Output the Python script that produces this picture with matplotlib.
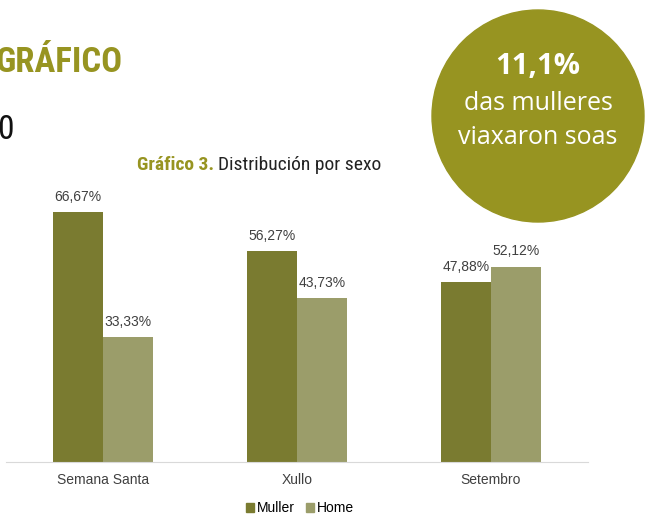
import matplotlib.pyplot as plt
from matplotlib.patches import Ellipse, Patch
import numpy as np

categorias = ["Semana Santa", "Xullo", "Setembro"]
muller = [66.67, 56.27, 47.88]
home = [33.33, 43.73, 52.12]
etiquetas_muller = ["66,67%", "56,27%", "47,88%"]
etiquetas_home = ["33,33%", "43,73%", "52,12%"]

c_muller = "#7a7b30"
c_home = "#9b9d6a"
c_olive = "#979421"
narrow = ["Roboto Condensed", "Liberation Sans Narrow", "Roboto", "DejaVu Sans"]

fig = plt.figure(figsize=(6.46, 5.22), dpi=100)

ax = fig.add_axes([6 / 646, 60 / 522, 582 / 646, 250 / 522])
x = np.arange(len(categorias))
w = 0.26
ax.bar(x - w / 2, muller, w, color=c_muller, label="Muller")
ax.bar(x + w / 2, home, w, color=c_home, label="Home")
for i in range(len(x)):
    ax.text(x[i] - w / 2, muller[i] + 2.2, etiquetas_muller[i], ha="center", va="bottom",
            fontsize=10, color="#404040", family="Liberation Sans")
    ax.text(x[i] + w / 2, home[i] + 2.2, etiquetas_home[i], ha="center", va="bottom",
            fontsize=10, color="#404040", family="Liberation Sans")
ax.set_xlim(-0.5, 2.5)
ax.set_ylim(0, 66.67)
ax.set_xticks(x)
ax.set_xticklabels(categorias, fontsize=10, color="#404040", family="Liberation Sans")
ax.tick_params(axis="x", length=0, pad=8)
ax.set_yticks([])
for s in ["top", "right", "left"]:
    ax.spines[s].set_visible(False)
ax.spines["bottom"].set_color("#d9d9d9")
for p in ax.patches:
    p.set_clip_on(False)

fig.legend(handles=[Patch(color=c_muller, label="Muller"), Patch(color=c_home, label="Home")],
           loc="center", bbox_to_anchor=(300 / 646, 1 - 508 / 522), ncol=2, frameon=False,
           handlelength=0.6, handleheight=0.6, handletextpad=0.2, columnspacing=0.8,
           prop={"family": "Liberation Sans", "size": 10})

# cabeceira (cortada no bordo esquerdo coma no orixinal)
fig.text(-5 / 646, 1 - 62 / 522, "GRÁFICO", fontsize=25, fontweight="bold", color=c_olive,
         va="center", ha="left", family=narrow)
fig.text(-3 / 646, 1 - 130 / 522, "0", fontsize=24, color="#111111", va="center", ha="left",
         family=narrow)
t1 = fig.text(137 / 646, 1 - 165 / 522, "Gráfico 3.", fontsize=14, fontweight="bold",
              color=c_olive, va="center", ha="left", family=narrow)
ax.annotate("Distribución por sexo", xy=(1, 0.5), xycoords=t1, xytext=(3, 0),
            textcoords="offset points", fontsize=14, color="#222222",
            va="center", ha="left", family=narrow, annotation_clip=False)

# círculo
circ = Ellipse((538 / 646, 1 - 116 / 522), 212 / 646, 212 / 522, transform=fig.transFigure,
               color=c_olive, zorder=0)
fig.patches.append(circ)
fig.text(538 / 646, 1 - 66 / 522, "11,1%", fontsize=21, fontweight="bold", color="white",
         ha="center", va="center", family="Open Sans")
fig.text(538 / 646, 1 - 104 / 522, "das mulleres", fontsize=18, color="white",
         ha="center", va="center", family="Open Sans")
fig.text(538 / 646, 1 - 137 / 522, "viaxaron soas", fontsize=18, color="white",
         ha="center", va="center", family="Open Sans")

fig.savefig("out.png", dpi=100)
